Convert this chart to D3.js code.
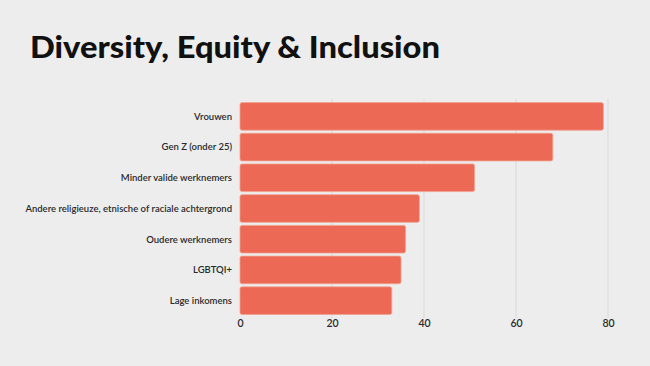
<!DOCTYPE html>
<html>
<head>
<meta charset="utf-8">
<script src="https://cdn.jsdelivr.net/npm/d3@7"></script>
<style>
  body { margin: 0; background: #ededed; }
  svg { display: block; }
</style>
</head>
<body>
<div id="chart"></div>
<script>
var categories = [
    "Vrouwen",
    "Gen Z (onder 25)",
    "Minder valide werknemers",
    "Andere religieuze, etnische of raciale achtergrond",
    "Oudere werknemers",
    "LGBTQI+",
    "Lage inkomens"
];
var values = [79, 68, 51, 39, 36, 35, 33];
var tickValues = [0, 20, 40, 60, 80];

var ctx = {
    w: 650,
    h: 366,
    left: 240,
    right: 608,
    top: 101,
    bottom: 316,
    barColor: "#ec6a55"
};

var svgEl = d3.select("#chart").append("svg")
    .attr("width", ctx.w)
    .attr("height", ctx.h);

svgEl.append("rect")
    .attr("width", ctx.w)
    .attr("height", ctx.h)
    .attr("fill", "#ededed");

svgEl.append("text")
    .text("Diversity, Equity & Inclusion")
    .attr("x", 30)
    .attr("y", 58)
    .attr("font-family", "Lato")
    .attr("font-weight", 900)
    .attr("font-size", "31px")
    .attr("fill", "#111")
    .attr("textLength", 410)
    .attr("lengthAdjust", "spacingAndGlyphs");

var x = d3.scaleLinear()
    .domain([0, 80])
    .range([ctx.left, ctx.right]);

var y = d3.scaleBand()
    .domain(categories)
    .range([ctx.top, ctx.bottom])
    .paddingInner(0.1)
    .paddingOuter(0.05);

// grid lines
svgEl.append("g")
    .selectAll("line")
    .data(tickValues.slice(1))
    .enter()
    .append("line")
    .attr("x1", d => x(d))
    .attr("x2", d => x(d))
    .attr("y1", ctx.top - 2)
    .attr("y2", ctx.bottom + 2)
    .attr("stroke", "#d9d9d9")
    .attr("stroke-width", 1);

// bars
svgEl.append("g")
    .selectAll("rect")
    .data(values)
    .enter()
    .append("rect")
    .attr("x", x(0))
    .attr("y", (d, i) => y(categories[i]))
    .attr("width", d => x(d) - x(0))
    .attr("height", y.bandwidth())
    .attr("rx", 2)
    .attr("fill", ctx.barColor)
    .attr("stroke", "#f3a090")
    .attr("stroke-width", 0.8);

// category labels
svgEl.append("g")
    .selectAll("text")
    .data(categories)
    .enter()
    .append("text")
    .text(d => d)
    .attr("x", ctx.left - 8)
    .attr("y", d => y(d) + y.bandwidth() / 2)
    .attr("dy", "0.35em")
    .attr("text-anchor", "end")
    .attr("font-family", "Lato")
    .attr("font-weight", 600)
    .attr("font-size", "9.5px")
    .attr("fill", "#2a2a2a");

// x axis tick labels
var xAxis = d3.axisBottom(x)
    .tickValues(tickValues)
    .tickSize(0)
    .tickPadding(0);

var axisG = svgEl.append("g")
    .attr("transform", "translate(0," + 320 + ")")
    .call(xAxis);
axisG.select(".domain").remove();
axisG.selectAll("text")
    .attr("font-family", "Lato")
    .attr("font-weight", 600)
    .attr("font-size", "10.5px")
    .attr("fill", "#2a2a2a");
</script>
</body>
</html>
